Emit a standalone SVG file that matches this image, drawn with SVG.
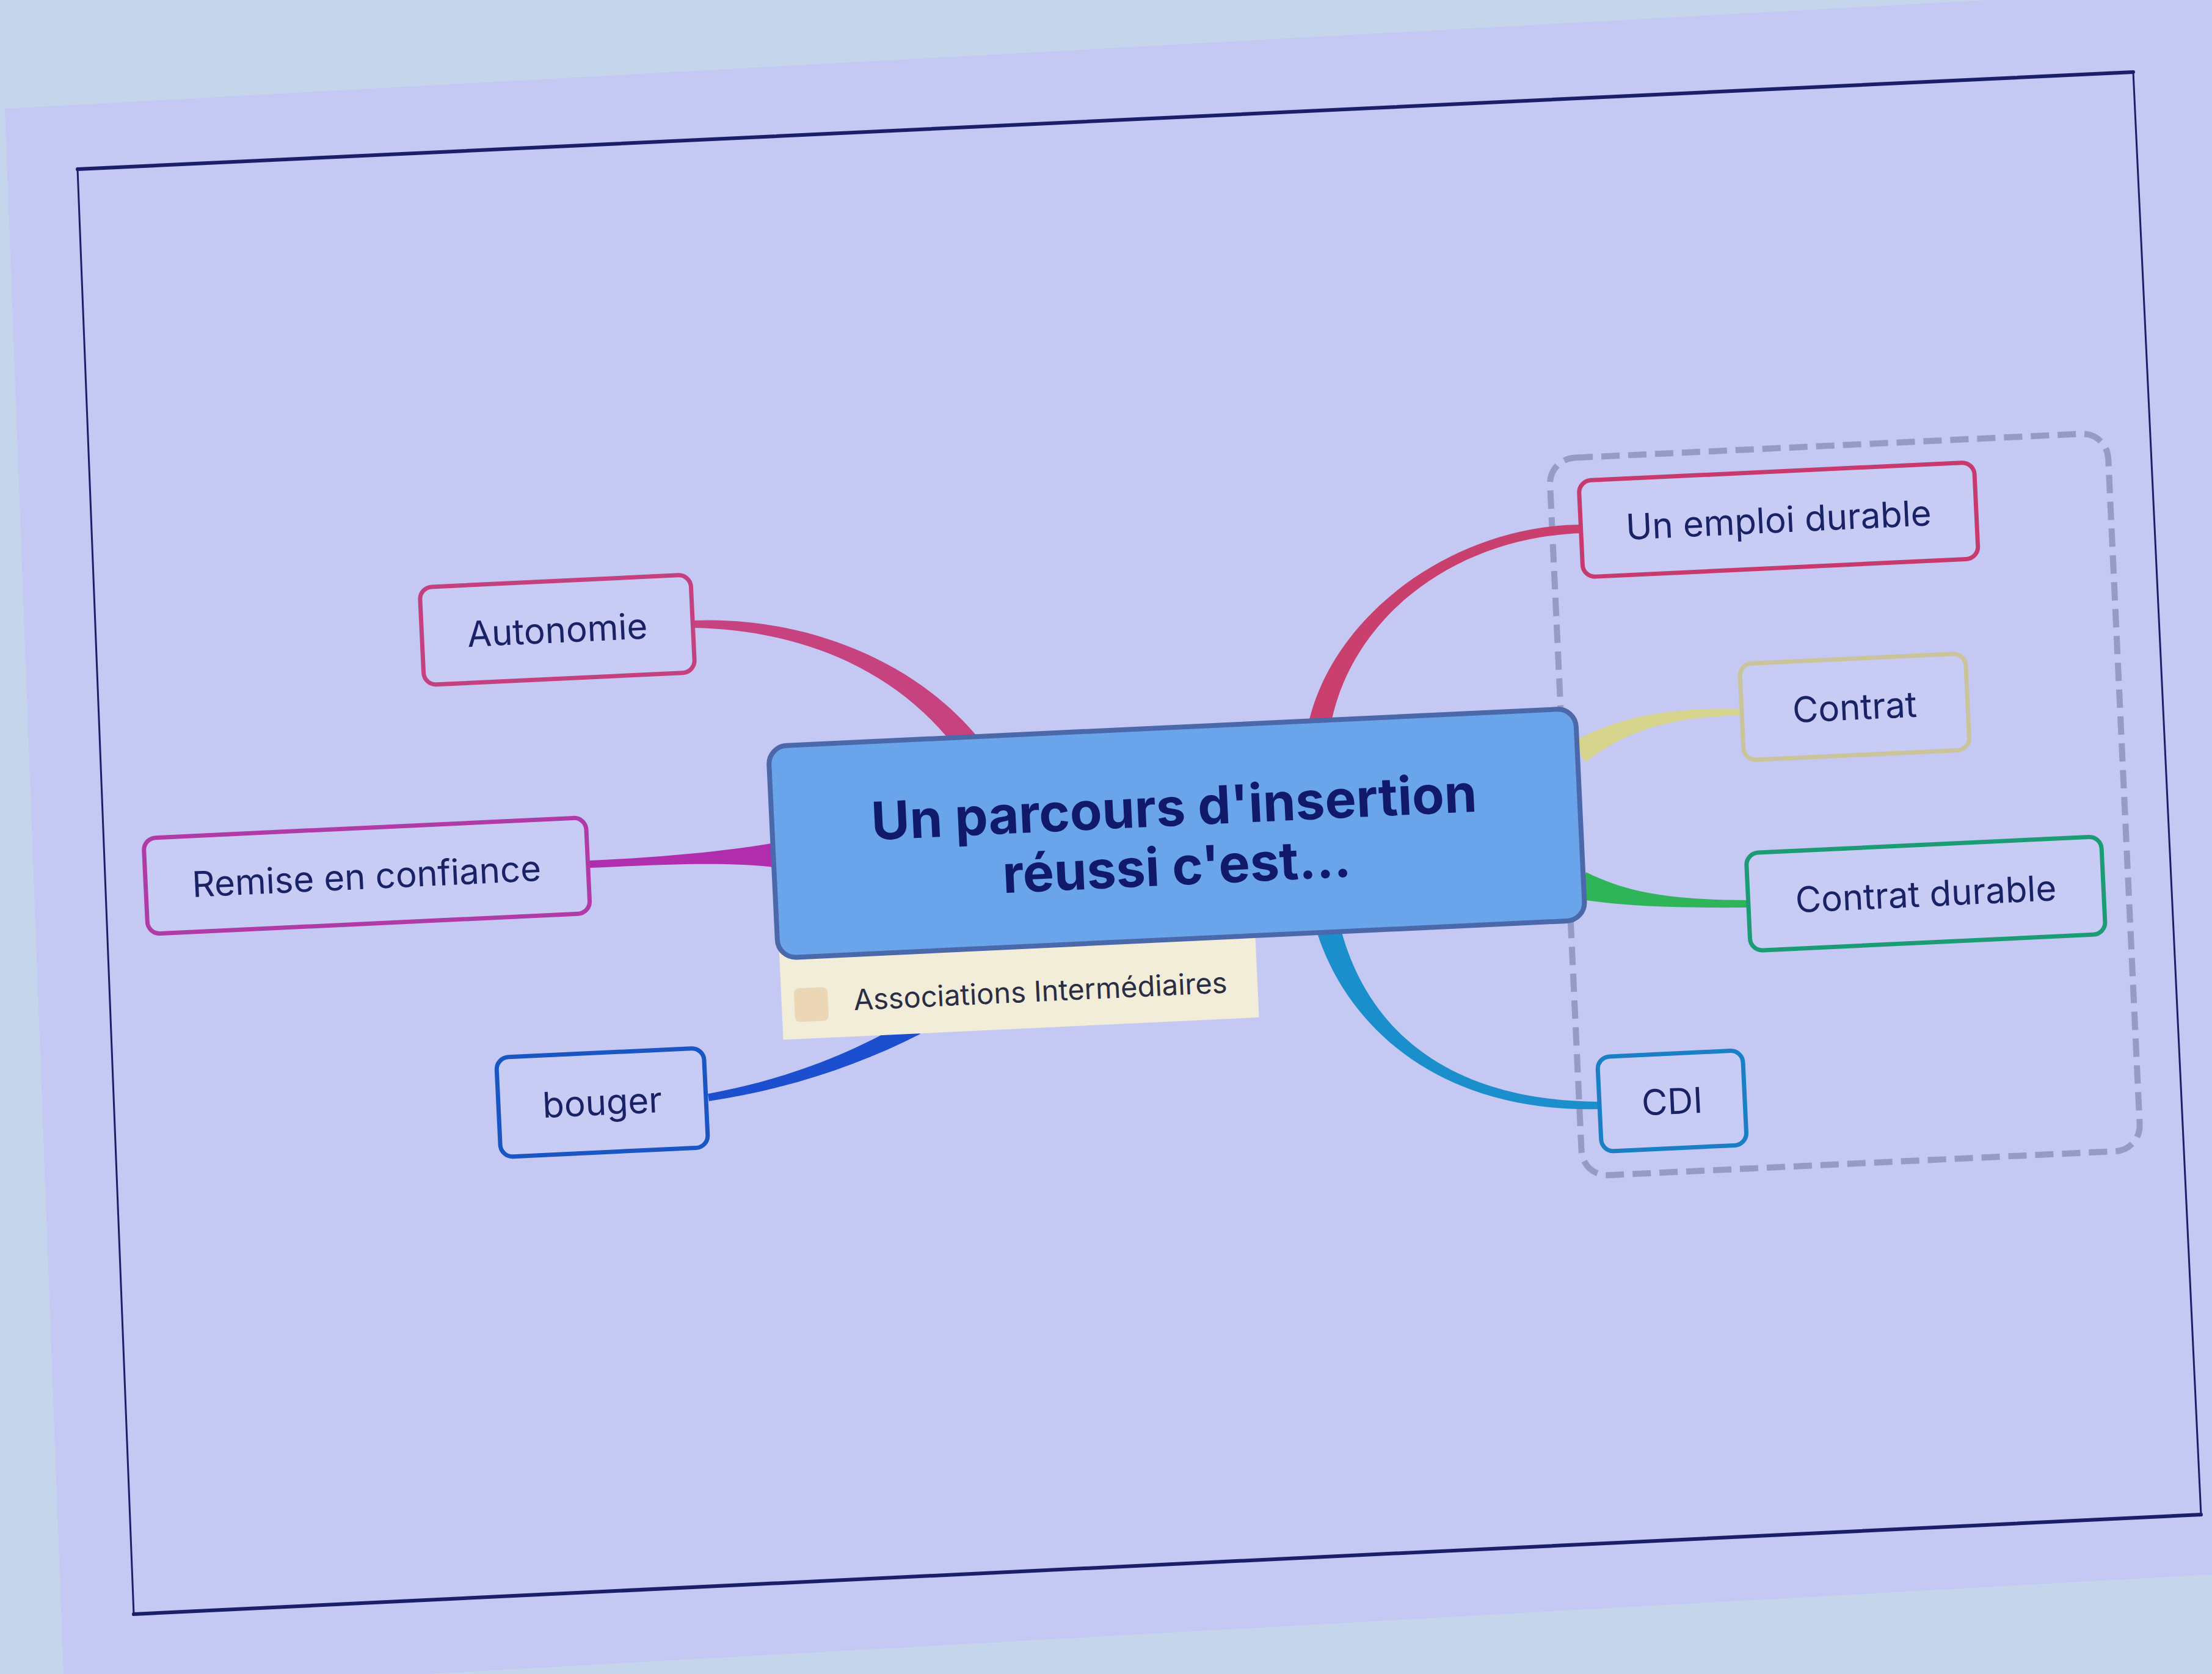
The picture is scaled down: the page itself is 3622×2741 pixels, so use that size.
<svg xmlns="http://www.w3.org/2000/svg" width="3622" height="2741" viewBox="0 0 3622 2741">
<style>
.box{fill:#c8cbf4;stroke-width:7}
.lbl{font-family:Inter,"Liberation Sans",Arial,sans-serif;font-size:58px;fill:#1a2266;text-anchor:middle}
.title{font-family:Inter,"Liberation Sans",Arial,sans-serif;font-size:86px;font-weight:700;fill:#111a6a;text-anchor:middle}
.cap{font-family:Inter,"Liberation Sans",Arial,sans-serif;font-size:47px;fill:#2b2d45}
</style>
<rect x="0" y="0" width="3622" height="2741" fill="#c5d5ec"/>
<polygon points="8,178 3622,-20 3622,2578 700,2741 104,2741" fill="#c4c8f2"/>
<g id="frame" fill="none" stroke="#1b1f6b" stroke-linecap="round">
<line x1="127" y1="277" x2="3493" y2="118" stroke-width="6"/>
<line x1="219" y1="2643" x2="3604" y2="2480" stroke-width="6"/>
<line x1="127" y1="277" x2="219" y2="2643" stroke-width="3"/>
<line x1="3493" y1="118" x2="3604" y2="2480" stroke-width="3"/>
</g>
<g transform="rotate(-2.7 1861 1380)">
<g id="boundary"><rect x="2565" y="784" width="915" height="1176" rx="42" fill="none" stroke="#939bc6" stroke-width="10" stroke-dasharray="30 14"/></g>
</g>
<g id="connectors">
<path d="M1606,1213 C1492,1071 1300,1009 1136,1016 L1136,1028 C1300,1031 1468,1089 1574,1237 Z" fill="#c6437f"/>
<path d="M1275,1379 C1190,1394 1080,1404 966,1409 L966,1421 C1080,1416 1190,1410 1275,1421 Z" fill="#b02eae"/>
<path d="M1493,1667 C1395,1725 1289,1767 1159,1791 L1161,1803 C1291,1783 1405,1745 1507,1693 Z" fill="#1c4fd0"/>
<path d="M2178,1193 C2209,1013 2380,880 2590,873 L2590,859 C2380,860 2181,1007 2142,1187 Z" fill="#c9406f"/>
<path d="M2596,1248 C2667,1193 2740,1174 2855,1171 L2855,1161 C2740,1158 2653,1171 2574,1216 Z" fill="#d6d48c"/>
<path d="M2583,1472 C2656,1483 2730,1487 2860,1486 L2860,1474 C2730,1473 2664,1461 2597,1428 Z" fill="#2fb45a"/>
<path d="M2156,1525 C2206,1684 2360,1822 2617,1816 L2617,1804 C2360,1802 2234,1676 2194,1515 Z" fill="#1a8fcc"/>
</g>
<g transform="rotate(-2.7 1861 1380)">
<g id="caption">
<rect x="1268" y="1520" width="780" height="155" fill="#f1edd8"/>
<rect x="1289" y="1592" width="55" height="55" rx="8" fill="#ebd7b5"/>
<text class="cap" x="1386" y="1632">Associations Intermédiaires</text>
</g>
<g id="central">
<rect x="1266" y="1194" width="1323" height="347" rx="30" fill="#6aa5eb" stroke="#4b68aa" stroke-width="8"/>
<text class="title" x="1925" y="1355">Un parcours d'insertion</text>
<text class="title" x="1925" y="1452">réussi c'est...</text>
</g>
<g id="autonomie"><rect class="box" x="708" y="907" width="444" height="160" rx="20" stroke="#c4407e"/><text class="lbl" x="930" y="1008">Autonomie</text></g>
<g id="remise"><rect class="box" x="237" y="1296" width="725" height="157" rx="20" stroke="#b03aa6"/><text class="lbl" x="599" y="1396">Remise en confiance</text></g>
<g id="bouger"><rect class="box" x="797" y="1682" width="340" height="163" rx="20" stroke="#1a55c4"/><text class="lbl" x="967" y="1784">bouger</text></g>
<g id="emploi"><rect class="box" x="2612" y="822" width="648" height="158" rx="20" stroke="#c83a6e"/><text class="lbl" x="2936" y="922">Un emploi durable</text></g>
<g id="contrat"><rect class="box" x="2861" y="1134" width="370" height="158" rx="20" stroke="#c9c49a"/><text class="lbl" x="3046" y="1234">Contrat</text></g>
<g id="contrat-durable"><rect class="box" x="2857" y="1444" width="582" height="160" rx="20" stroke="#1c9c74"/><text class="lbl" x="3148" y="1545">Contrat durable</text></g>
<g id="cdi"><rect class="box" x="2598" y="1766" width="238" height="155" rx="20" stroke="#1a7fc4"/><text class="lbl" x="2717" y="1865">CDI</text></g>
</g>
</svg>
